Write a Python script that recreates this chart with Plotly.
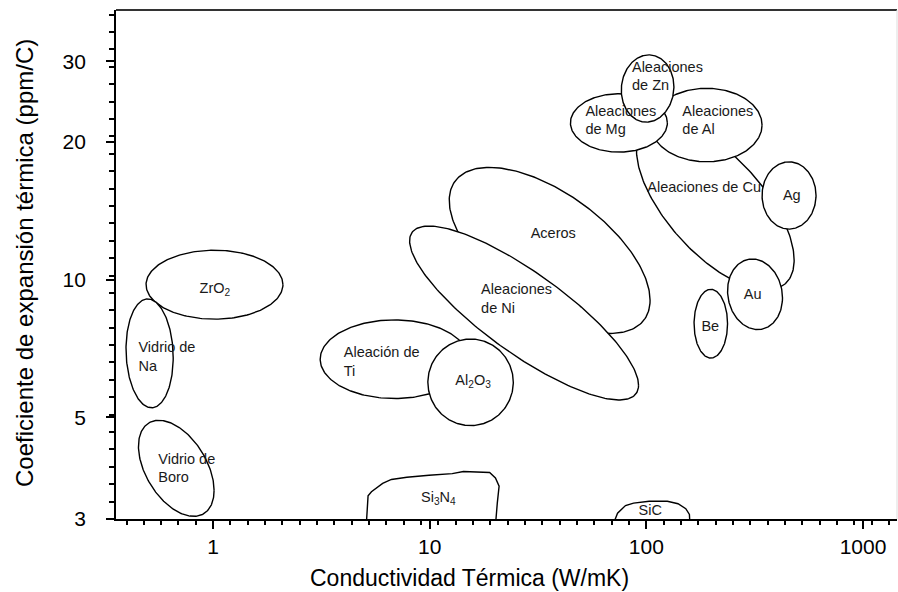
import numpy as np
import plotly.graph_objects as go

FONT = "Liberation Sans, Arial, Helvetica, sans-serif"

# ---------------- data ----------------
# Material bubbles: conductivity range (W/mK), expansion range (ppm/C), tilt (correlation in log space)
ell_names = ["Aleaciones de Cu", "Aleaciones de Al", "Aleaciones de Mg", "Aleaciones de Zn",
             "Ag", "Au", "Be", "Aceros", "Aleaciones de Ni", "Aleación de Ti", "Al2O3",
             "ZrO2", "Vidrio de Na", "Vidrio de Boro"]
k_min = [90, 105, 44.6, 76.6, 342, 237, 166, 12.3, 8.07, 3.12, 9.8, 0.49, 0.396, 0.452]
k_max = [481, 342, 125, 134, 607, 425, 237, 104, 92, 15.1, 24.3, 2.1, 0.654, 1.01]
a_min = [9.5, 18.1, 19.0, 22.1, 12.9, 7.78, 6.74, 7.63, 5.46, 5.5, 4.8, 8.2, 5.25, 3.04]
a_max = [22.3, 26.2, 25.5, 31.0, 18.1, 11.1, 9.53, 17.6, 13.1, 8.17, 7.42, 11.6, 9.08, 4.93]
tilt = [-0.65, 0.0, 0.0, 0.05, 0.0, -0.1, 0.0, -0.6, -0.83, 0.0, 0.0, 0.0, -0.08, -0.46]

# Irregular regions cut by the bottom axis
si3n4_k = [5.09, 5.19, 5.38, 6.06, 6.65, 7.84, 9.92, 12.7, 14.3, 16.1, 18.9, 20.1, 20.9, 20.5, 20.1]
si3n4_a = [2.9, 3.37, 3.44, 3.59, 3.66, 3.70, 3.74, 3.77, 3.81, 3.80, 3.79, 3.69, 3.54, 3.25, 2.9]
sic_k = [69.9, 73.6, 80.1, 87.3, 103, 125, 140, 152, 158, 159]
sic_a = [2.9, 3.09, 3.21, 3.25, 3.28, 3.28, 3.24, 3.16, 3.07, 2.9]

# Labels, left aligned (anchor = left edge)
lab_l_txt = ["Vidrio de<br>Na", "Vidrio de<br>Boro", "Aleación de<br>Ti", "Aleaciones<br>de Ni",
             "Aleaciones<br>de Zn", "Aleaciones<br>de Mg", "Aleaciones<br>de Al", "Aleaciones de Cu"]
lab_l_k = [0.452, 0.558, 4.01, 17.26, 85.8, 52.3, 146.6, 101.0]
lab_l_a = [6.74, 3.85, 6.57, 9.03, 27.68, 22.18, 22.18, 15.84]
# Labels, centred
lab_c_txt = ["ZrO<sub>2</sub>", "Al<sub>2</sub>O<sub>3</sub>", "Aceros", "Ag", "Au", "Be",
             "Si<sub>3</sub>N<sub>4</sub>", "SiC"]
lab_c_k = [1.019, 15.85, 37.17, 469.4, 309.7, 197.2, 10.96, 104.2]
lab_c_a = [9.53, 6.00, 12.59, 15.23, 9.26, 7.86, 3.336, 3.117]

x_ticks = [1, 10, 100, 1000]
y_ticks = [3, 5, 10, 20, 30]

X_RANGE = [-0.4485, 3.157]
Y_RANGE = [float(np.log10(3)), 1.5894]

# ---------------- figure ----------------
fig = go.Figure()
t = np.linspace(0, 2 * np.pi, 241)
for name, k0, k1, a0, a1, r in zip(ell_names, k_min, k_max, a_min, a_max, tilt):
    u0 = (np.log10(k0) + np.log10(k1)) / 2
    su = (np.log10(k1) - np.log10(k0)) / 2
    v0 = (np.log10(a0) + np.log10(a1)) / 2
    sv = (np.log10(a1) - np.log10(a0)) / 2
    u = u0 + su * np.cos(t)
    v = v0 + sv * (r * np.cos(t) + np.sqrt(1 - r * r) * np.sin(t))
    fig.add_trace(go.Scatter(x=10 ** u, y=10 ** v, mode="lines", fill="toself",
                             fillcolor="white", line=dict(color="black", width=1.4),
                             name=name, hoverinfo="skip", showlegend=False))

for kk, aa, nm in [(si3n4_k, si3n4_a, "Si3N4"), (sic_k, sic_a, "SiC")]:
    fig.add_trace(go.Scatter(x=kk, y=aa, mode="lines", fill="toself", fillcolor="white",
                             line=dict(color="black", width=1.4), name=nm,
                             hoverinfo="skip", showlegend=False))

fig.add_trace(go.Scatter(x=lab_l_k, y=lab_l_a, text=lab_l_txt, mode="text",
                         textposition="middle right",
                         textfont=dict(family=FONT, size=14.5, color="#1a1a1a"),
                         hoverinfo="skip", showlegend=False))
fig.add_trace(go.Scatter(x=lab_c_k, y=lab_c_a, text=lab_c_txt, mode="text",
                         textposition="middle center",
                         textfont=dict(family=FONT, size=14.5, color="#1a1a1a"),
                         hoverinfo="skip", showlegend=False))

# evenly spaced decorative minor ticks (style only)
x_minor = [float(v) for v in 10 ** np.arange(-0.48, 3.2, 0.08)]
y_minor = [float(v) for v in 10 ** (np.log10(3) + 0.038 * np.arange(0, 30))]

# trailing non-breaking spaces push the y labels away from the axis
PAD = "\u00a0\u00a0\u2009"

fig.update_layout(
    width=898, height=592,
    margin=dict(l=116, r=1, t=10, b=73),
    paper_bgcolor="white", plot_bgcolor="white",
    showlegend=False,
    shapes=[
        dict(type="line", xref="paper", yref="paper", x0=0, x1=1, y0=1, y1=1,
             line=dict(color="#333", width=2)),
        dict(type="line", xref="paper", yref="paper", x0=1, x1=1, y0=0, y1=1,
             line=dict(color="#dddddd", width=1)),
    ],
    annotations=[
        dict(text="Conductividad Térmica (W/mK)", xref="paper", yref="paper",
             x=0.453, y=-0.116, xanchor="center", yanchor="middle", showarrow=False,
             font=dict(family=FONT, size=23, color="black")),
        dict(text="Coeficiente de expansión térmica (ppm/C)", xref="paper", yref="paper",
             x=-0.1165, y=0.503, xanchor="center", yanchor="middle", showarrow=False,
             textangle=-90, font=dict(family=FONT, size=24, color="black")),
    ],
)

fig.update_xaxes(
    type="log", range=X_RANGE,
    tickmode="array", tickvals=x_ticks, ticktext=[str(v) for v in x_ticks],
    ticks="outside", ticklen=8, tickwidth=2, tickcolor="black",
    showline=True, linecolor="black", linewidth=2,
    showgrid=False, zeroline=False,
    tickfont=dict(family=FONT, size=21, color="black"),
    minor=dict(ticks="outside", ticklen=4, tickwidth=1.5, tickcolor="black",
               tickmode="array", tickvals=x_minor, showgrid=False),
)
fig.update_yaxes(
    type="log", range=Y_RANGE,
    tickmode="array", tickvals=y_ticks, ticktext=[str(v) + PAD for v in y_ticks],
    ticks="outside", ticklen=8, tickwidth=2, tickcolor="black",
    showline=True, linecolor="black", linewidth=2,
    showgrid=False, zeroline=False,
    tickfont=dict(family=FONT, size=21, color="black"),
    minor=dict(ticks="outside", ticklen=5, tickwidth=1.5, tickcolor="black",
               tickmode="array", tickvals=y_minor, showgrid=False),
)

fig.write_html("out.html")
